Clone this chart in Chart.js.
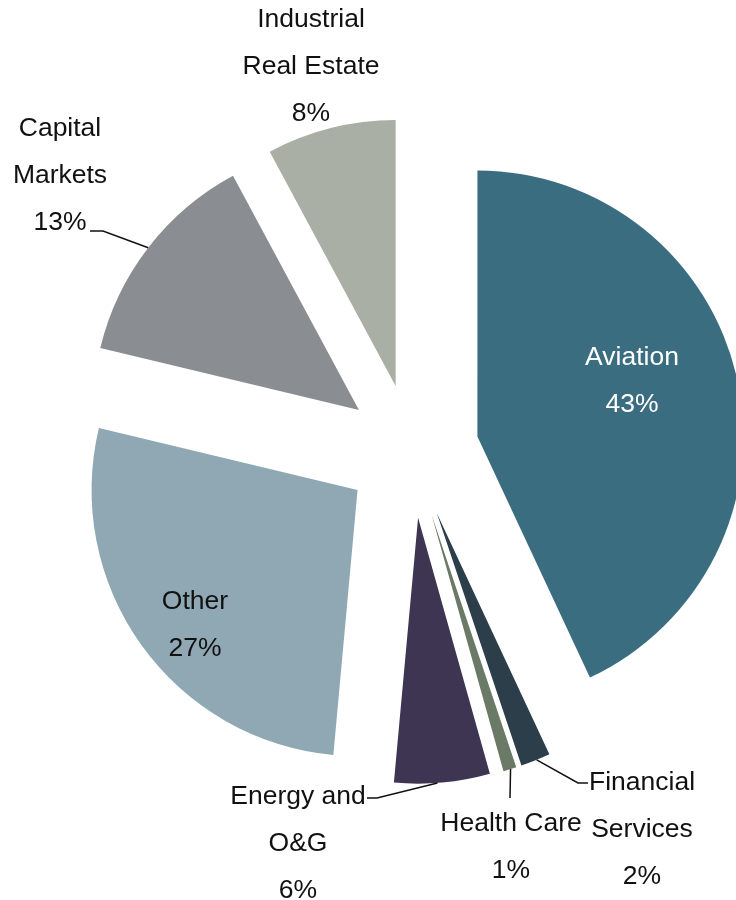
<!DOCTYPE html>
<html>
<head>
<meta charset="utf-8">
<title>Exposure by sector</title>
<script src="https://cdn.jsdelivr.net/npm/chart.js@4.4.0/dist/chart.umd.min.js"></script>
<style>
body{margin:0;background:#fff;}
canvas{display:block;}
</style>
</head>
<body>
<canvas id="pieChart" width="736" height="900"></canvas>
<script>
var categories=["Aviation","Financial\nServices","Health Care","Energy and\nO&G","Other","Capital\nMarkets","Industrial\nReal Estate"];
// slice sizes; labels show them rounded
var shares=[43.05,1.8,0.8,5.8,27.3,13.4,7.85];
var sliceColors=["#3a6d7f","#2c3e49","#6b7967","#3e3553","#8fa8b3","#8a8e92","#a9afa4"];

var EXPLODE=67;
var RADIUS=266;
var FONT='26.5px "Liberation Sans", Arial, sans-serif';
var LINE_GAP=47;

// where each label sits (centre of its first line) and how its leader runs
var labelLayout=[
	{x:632,y:358,color:"#ffffff"},
	{x:642,y:783,color:"#111111",at:0.46,path:[[578,783],[588,783]]},
	{x:511,y:824,color:"#111111",at:0.45,path:[[510,798]]},
	{x:298,y:797,color:"#111111",at:0.55,path:[[377,798],[367,798]]},
	{x:195,y:602,color:"#111111"},
	{x:60,y:129,color:"#111111",at:0.5,path:[[103,231],[90,231]]},
	{x:311,y:20,color:"#111111"}
];

function $each(arr,fn){
	for(var i=0;i<arr.length;i++){fn(arr[i],i);}
}

// pull every slice out of the centre by the same distance
var explodePlugin={
	id:"explode",
	afterDatasetUpdate:function(chart,args){
		$each(args.meta.data,function(el){
			var half=(el.startAngle+el.endAngle)/2;
			el.x+=Math.cos(half)*EXPLODE;
			el.y+=Math.sin(half)*EXPLODE;
		});
	}
};

var labelPlugin={
	id:"sliceLabels",
	afterDatasetsDraw:function(chart){
		var ctx=chart.ctx;
		var arcs=chart.getDatasetMeta(0).data;
		ctx.save();
		ctx.font=FONT;
		ctx.textAlign="center";
		ctx.textBaseline="middle";
		$each(arcs,function(el,i){
			var lay=labelLayout[i];
			if(lay.path){
				var a=el.startAngle+lay.at*(el.endAngle-el.startAngle);
				ctx.beginPath();
				ctx.moveTo(el.x+Math.cos(a)*el.outerRadius,el.y+Math.sin(a)*el.outerRadius);
				lay.path.forEach(function(p){ctx.lineTo(p[0],p[1]);});
				ctx.strokeStyle="#111111";
				ctx.lineWidth=1.5;
				ctx.stroke();
			}
			var lines=categories[i].split("\n");
			lines.push(Math.round(shares[i])+"%");
			ctx.fillStyle=lay.color;
			lines.forEach(function(t,k){
				ctx.fillText(t,lay.x,lay.y+k*LINE_GAP);
			});
		});
		ctx.restore();
	}
};

var ctx=document.getElementById("pieChart").getContext("2d");
var pieChart=new Chart(ctx,{
	type:"pie",
	data:{
		labels:categories,
		datasets:[{
			data:shares,
			backgroundColor:sliceColors,
			borderWidth:0,
			radius:RADIUS,
			hoverOffset:0
		}]
	},
	options:{
		responsive:false,
		animation:false,
		layout:{padding:{left:88,right:0,top:2,bottom:0}},
		plugins:{
			legend:{display:false},
			tooltip:{enabled:false}
		}
	},
	plugins:[explodePlugin,labelPlugin]
});
</script>
</body>
</html>
